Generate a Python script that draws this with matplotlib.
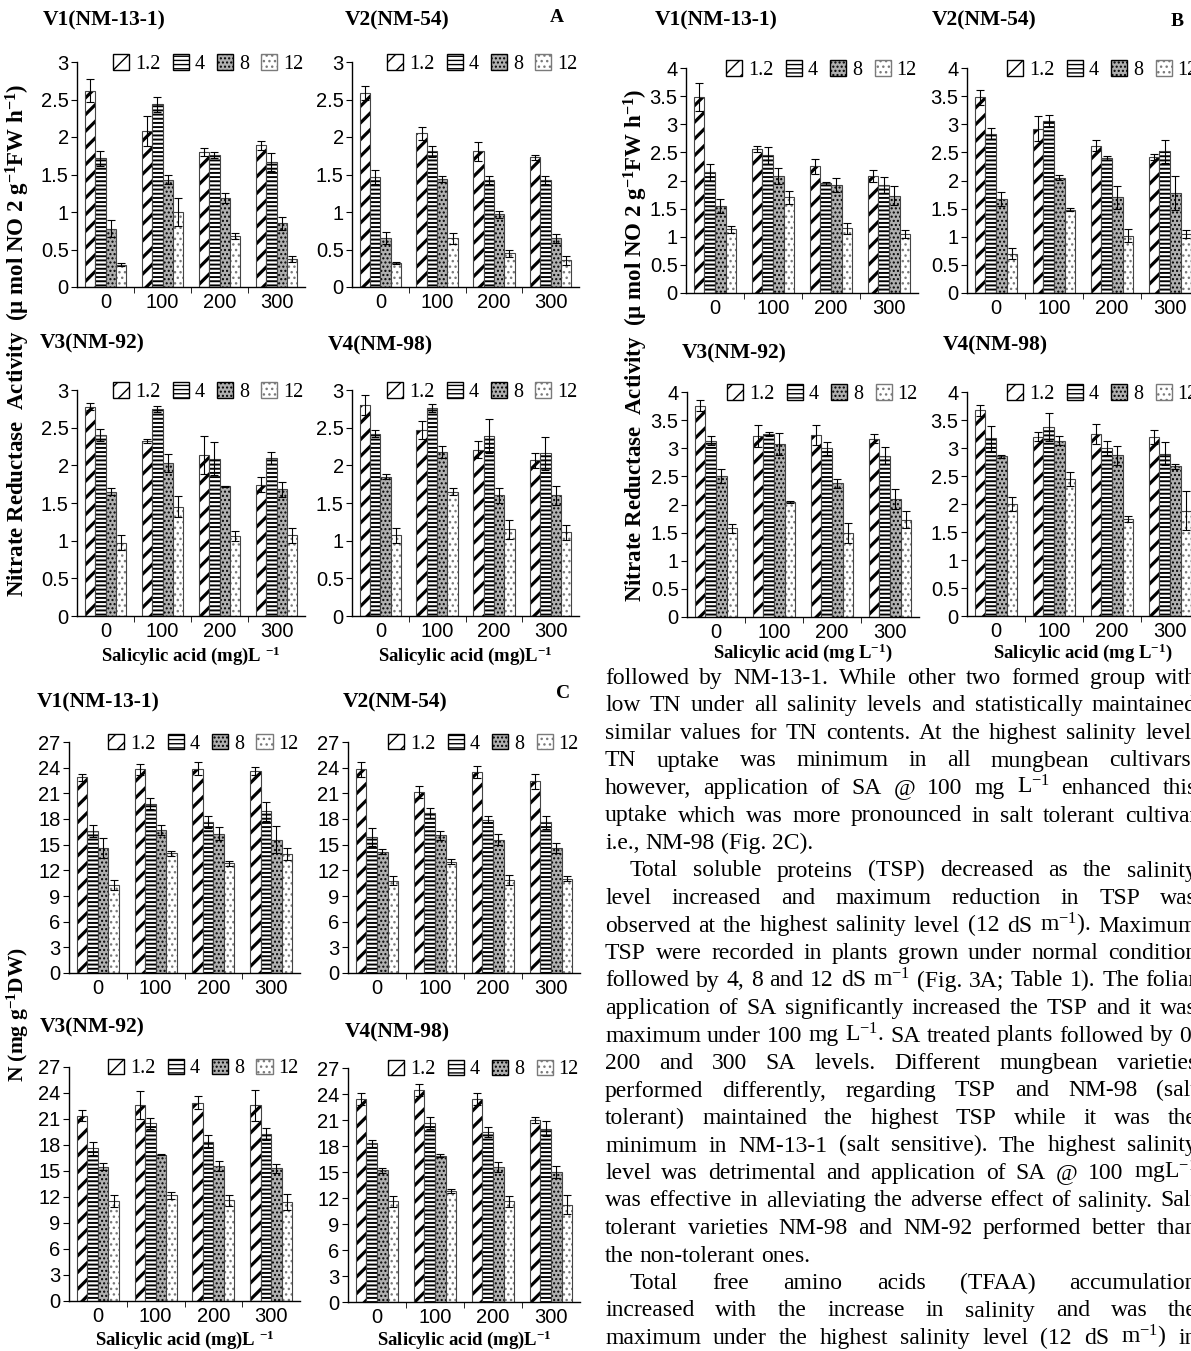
import numpy as np
import matplotlib
matplotlib.use('Agg')
import matplotlib.pyplot as plt
from matplotlib.patches import Patch

plt.rcParams['font.family'] = ['Liberation Sans', 'DejaVu Sans']
plt.rcParams['mathtext.fontset'] = 'custom'
plt.rcParams['mathtext.rm'] = 'Liberation Serif'
plt.rcParams['mathtext.it'] = 'Liberation Serif:italic'
plt.rcParams['mathtext.bf'] = 'Liberation Serif:bold'
plt.rcParams['hatch.linewidth'] = 1.0

# ---------------- data ----------------
sa_levels = ['0', '100', '200', '300']
salinity = ['1.2', '4', '8', '12']
varieties = ['V1(NM-13-1)', 'V2(NM-54)', 'V3(NM-92)', 'V4(NM-98)']

# rows = salinity (1.2, 4, 8, 12 dS/m), columns = SA level (0, 100, 200, 300)
# Panel A: nitrate reductase activity
nra_a_v1 = [[2.62, 2.08, 1.80, 1.89], [1.72, 2.44, 1.76, 1.67], [0.78, 1.43, 1.19, 0.85], [0.30, 1.00, 0.68, 0.37]]
nra_a_v1_se = [[0.15, 0.20, 0.05, 0.06], [0.10, 0.10, 0.04, 0.12], [0.11, 0.06, 0.07, 0.09], [0.02, 0.19, 0.04, 0.04]]
nra_a_v2 = [[2.59, 2.05, 1.81, 1.73], [1.47, 1.81, 1.43, 1.43], [0.66, 1.44, 0.97, 0.65], [0.32, 0.65, 0.45, 0.36]]
nra_a_v2_se = [[0.09, 0.09, 0.13, 0.03], [0.09, 0.07, 0.05, 0.05], [0.08, 0.04, 0.05, 0.06], [0.01, 0.07, 0.05, 0.06]]
nra_a_v3 = [[2.78, 2.32, 2.14, 1.74], [2.40, 2.75, 2.09, 2.10], [1.65, 2.03, 1.72, 1.68], [0.97, 1.45, 1.06, 1.07]]
nra_a_v3_se = [[0.05, 0.03, 0.25, 0.10], [0.08, 0.04, 0.22, 0.08], [0.05, 0.12, 0.01, 0.10], [0.10, 0.14, 0.07, 0.10]]
nra_a_v4 = [[2.80, 2.47, 2.21, 2.07], [2.42, 2.76, 2.39, 2.16], [1.85, 2.18, 1.60, 1.60], [1.07, 1.65, 1.15, 1.11]]
nra_a_v4_se = [[0.13, 0.12, 0.11, 0.10], [0.05, 0.05, 0.22, 0.22], [0.03, 0.08, 0.10, 0.13], [0.10, 0.05, 0.13, 0.10]]

# Panel B: nitrate reductase activity
nra_b_v1 = [[3.48, 2.56, 2.25, 2.08], [2.15, 2.45, 1.95, 1.92], [1.55, 2.08, 1.92, 1.73], [1.13, 1.70, 1.15, 1.05]]
nra_b_v1_se = [[0.25, 0.05, 0.13, 0.10], [0.15, 0.15, 0.03, 0.15], [0.12, 0.15, 0.12, 0.17], [0.07, 0.12, 0.10, 0.07]]
nra_b_v2 = [[3.48, 2.92, 2.62, 2.42], [2.83, 3.06, 2.40, 2.52], [1.67, 2.05, 1.70, 1.78], [0.70, 1.48, 1.02, 1.05]]
nra_b_v2_se = [[0.13, 0.22, 0.10, 0.06], [0.10, 0.10, 0.03, 0.20], [0.12, 0.04, 0.20, 0.30], [0.10, 0.03, 0.12, 0.07]]
nra_b_v3 = [[3.76, 3.22, 3.23, 3.17], [3.13, 3.25, 3.00, 2.87], [2.51, 3.08, 2.38, 2.10], [1.58, 2.04, 1.50, 1.73]]
nra_b_v3_se = [[0.10, 0.20, 0.18, 0.08], [0.08, 0.04, 0.12, 0.15], [0.13, 0.20, 0.08, 0.18], [0.08, 0.02, 0.18, 0.15]]
nra_b_v4 = [[3.67, 3.20, 3.25, 3.20], [3.17, 3.37, 3.00, 2.90], [2.85, 3.13, 2.87, 2.67], [2.00, 2.45, 1.73, 1.88]]
nra_b_v4_se = [[0.10, 0.08, 0.18, 0.13], [0.22, 0.25, 0.12, 0.20], [0.03, 0.08, 0.17, 0.05], [0.13, 0.13, 0.05, 0.35]]

# Panel C: total nitrogen (mg/g DW)
n_c_v1 = [[22.9, 23.8, 23.9, 23.6], [16.6, 19.8, 17.6, 18.9], [14.6, 16.7, 16.3, 15.6], [10.3, 14.0, 12.8, 13.9]]
n_c_v1_se = [[0.4, 0.6, 0.8, 0.5], [0.7, 0.6, 0.7, 1.1], [1.2, 0.6, 0.8, 1.6], [0.6, 0.3, 0.3, 0.7]]
n_c_v2 = [[23.8, 21.2, 23.5, 22.4], [15.9, 18.7, 17.9, 17.6], [14.2, 16.1, 15.6, 14.6], [10.8, 13.0, 10.9, 11.0]]
n_c_v2_se = [[0.9, 0.7, 0.7, 0.9], [1.1, 0.6, 0.4, 0.8], [0.3, 0.5, 0.6, 0.6], [0.5, 0.3, 0.6, 0.3]]
n_c_v3 = [[21.4, 22.6, 22.9, 22.6], [17.6, 20.5, 18.4, 19.3], [15.5, 16.9, 15.6, 15.3], [11.5, 12.2, 11.6, 11.4]]
n_c_v3_se = [[0.6, 1.6, 0.8, 1.8], [0.7, 0.6, 0.8, 0.7], [0.4, 0.1, 0.6, 0.5], [0.7, 0.4, 0.6, 0.9]]
n_c_v4 = [[23.4, 24.5, 23.4, 21.0], [18.3, 20.7, 19.6, 20.0], [15.2, 16.9, 15.6, 15.0], [11.6, 12.8, 11.6, 11.2]]
n_c_v4_se = [[0.7, 0.7, 0.7, 0.4], [0.4, 0.7, 0.6, 0.9], [0.3, 0.2, 0.6, 0.7], [0.6, 0.2, 0.6, 1.1]]

body_lines = [
    "followed by NM-13-1. While other two formed group with",
    "low TN under all salinity levels and statistically maintained",
    "similar values for TN contents. At the highest salinity level,",
    "TN uptake was minimum in all mungbean cultivars,",
    "however, application of SA @ 100 mg L$^{-1}$ enhanced this",
    "uptake which was more pronounced in salt tolerant cultivar",
    "i.e., NM-98 (Fig. 2C).",
    "Total soluble proteins (TSP) decreased as the salinity",
    "level increased and maximum reduction in TSP was",
    "observed at the highest salinity level (12 dS m$^{-1}$).  Maximum",
    "TSP were recorded in plants grown under normal condition",
    "followed by 4, 8 and 12 dS m$^{-1}$ (Fig. 3A; Table 1). The foliar",
    "application of SA significantly increased the TSP and it was",
    "maximum under 100 mg L$^{-1}$. SA treated plants followed by 0,",
    "200 and 300 SA levels. Different mungbean varieties",
    "performed differently, regarding TSP and NM-98 (salt",
    "tolerant) maintained the highest TSP while it was the",
    "minimum in NM-13-1 (salt sensitive). The highest salinity",
    "level was detrimental and application of SA @ 100 mgL$^{-1}$",
    "was effective in alleviating the adverse effect of salinity. Salt",
    "tolerant varieties NM-98 and NM-92 performed better than",
    "the non-tolerant ones.",
    "Total free amino acids (TFAA) accumulation",
    "increased with the increase in salinity and was the",
    "maximum under the highest salinity level (12 dS m$^{-1}$) in",
]
indent_lines = [7, 22]
ragged_lines = [6, 21]

# ---------------- styling ----------------
W, H = 1191, 1351
fig = plt.figure(figsize=(W / 100, H / 100), dpi=100)

SERIF = 'Liberation Serif'
bar_styles = [
    dict(hatch='//', color='black', face='white', hlw=2.3),
    dict(hatch='----', color='black', face='white', hlw=1.4),
    dict(hatch='....', color='black', face='#b0b0b0', hlw=1.0),
    dict(hatch='...', color='#7a7a7a', face='white', hlw=1.0),
]


def px_axes(left, right, top, bottom):
    return fig.add_axes([left / W, 1 - bottom / H, (right - left) / W, (bottom - top) / H])


def draw_panel(ax, means, errs, ymax, ystep, yfmt):
    means = np.array(means)
    errs = np.array(errs)
    x = np.arange(len(sa_levels))
    bw = 0.182
    for i, st in enumerate(bar_styles):
        xi = x + (i - 1.5) * bw
        bars = ax.bar(xi, means[i], width=bw, facecolor=st['face'], edgecolor=st['color'],
                      hatch=st['hatch'], linewidth=0)
        for b in bars:
            if hasattr(b, 'set_hatch_linewidth'):
                b.set_hatch_linewidth(st['hlw'])
        ax.bar(xi, means[i], width=bw, fill=False, edgecolor='#444444', linewidth=0.8)
        ax.errorbar(xi, means[i], yerr=errs[i], fmt='none', ecolor='black',
                    elinewidth=0.8, capsize=3, capthick=0.8)
    ax.set_xlim(-0.5, 3.5)
    ax.set_ylim(0, ymax)
    ticks = np.arange(0, ymax + ystep / 2, ystep)
    ax.set_yticks(ticks)
    ax.set_yticklabels([yfmt(t) for t in ticks])
    ax.set_xticks(x)
    ax.set_xticklabels(sa_levels)
    ax.set_xticks([0.5, 1.5, 2.5], minor=True)
    ax.tick_params(axis='x', which='major', length=0, labelsize=14.5, pad=4)
    ax.tick_params(axis='x', which='minor', length=4, direction='out')
    ax.tick_params(axis='y', length=4, direction='out', labelsize=14.5, pad=2)
    for s in ('top', 'right'):
        ax.spines[s].set_visible(False)
    for s in ('left', 'bottom'):
        ax.spines[s].set_linewidth(1.0)
    handles = []
    for st in bar_styles:
        handles.append(Patch(facecolor=st['face'], edgecolor=st['color'], hatch=st['hatch']))
    leg = ax.legend(handles, salinity, loc='upper right', bbox_to_anchor=(1.03, 1.07),
                    ncol=4, frameon=False, handlelength=0.8, handleheight=0.8,
                    handletextpad=0.3, columnspacing=0.6, borderaxespad=0,
                    prop={'family': SERIF, 'size': 14.5})
    for h in leg.legend_handles:
        h.set_linewidth(1.0)


def fmt_dec(v):
    return ('%g' % v)


def fmt_int(v):
    return '%d' % v


panels = [
    # (means, errs, left, right, top, bottom, ymax, step, fmt)
    (nra_a_v1, nra_a_v1_se, 77, 305, 62, 287, 3, 0.5, fmt_dec),
    (nra_a_v2, nra_a_v2_se, 352, 579, 62, 287, 3, 0.5, fmt_dec),
    (nra_a_v3, nra_a_v3_se, 77, 305, 390, 616, 3, 0.5, fmt_dec),
    (nra_a_v4, nra_a_v4_se, 352, 579, 390, 616, 3, 0.5, fmt_dec),
    (nra_b_v1, nra_b_v1_se, 686, 918, 68, 293, 4, 0.5, fmt_dec),
    (nra_b_v2, nra_b_v2_se, 967, 1199, 68, 293, 4, 0.5, fmt_dec),
    (nra_b_v3, nra_b_v3_se, 687, 919, 392, 617, 4, 0.5, fmt_dec),
    (nra_b_v4, nra_b_v4_se, 967, 1199, 392, 616, 4, 0.5, fmt_dec),
    (n_c_v1, n_c_v1_se, 69, 300, 742, 973, 27, 3, fmt_int),
    (n_c_v2, n_c_v2_se, 348, 580, 742, 973, 27, 3, fmt_int),
    (n_c_v3, n_c_v3_se, 69, 300, 1067, 1301, 27, 3, fmt_int),
    (n_c_v4, n_c_v4_se, 348, 580, 1068, 1302, 27, 3, fmt_int),
]
for m, e, l, r, t, b, ymax, step, f in panels:
    ax = px_axes(l, r, t, b)
    draw_panel(ax, m, e, ymax, step, f)


def ftext(x, y, s, **kw):
    kw.setdefault('family', SERIF)
    return fig.text(x / W, 1 - y / H, s, **kw)


# variety titles (x, y in pixels)
titles = [
    (43, 20, 0), (345, 20, 1), (40, 343, 2), (328, 345, 3),
    (655, 20, 0), (932, 20, 1), (682, 353, 2), (943, 345, 3),
    (37, 702, 0), (343, 702, 1), (40, 1027, 2), (345, 1032, 3),
]
for x, y, k in titles:
    ftext(x, y, varieties[k], fontsize=15.5, fontweight='bold', ha='left', va='center')

for x, y, s in [(557, 18, 'A'), (1177, 22, 'B'), (563, 693, 'C')]:
    ftext(x, y, s, fontsize=14, fontweight='bold', ha='center', va='center')

# axis titles
nra_label = r"Nitrate Reductase  Activity  ($\mathbf{\mu}$ mol NO 2 g$^{\mathbf{-1}}$FW h$^{\mathbf{-1}}$)"
ftext(18, 340, nra_label, fontsize=16.5, fontweight='bold', rotation=90, ha='center', va='center')
ftext(636, 345, nra_label, fontsize=16.5, fontweight='bold', rotation=90, ha='center', va='center')
ftext(18, 1015, r"N (mg g$^{\mathbf{-1}}$DW)", fontsize=15.5, fontweight='bold', rotation=90,
      ha='center', va='center')

xl_a3 = r"Salicylic acid (mg)L $^{\mathbf{-1}}$"
xl_a4 = r"Salicylic acid (mg)L$^{\mathbf{-1}}$"
xl_b = r"Salicylic acid (mg L$^{\mathbf{-1}}$)"
for x, y, s in [(191, 656, xl_a3), (465, 656, xl_a4), (803, 653, xl_b), (1083, 653, xl_b),
                (185, 1340, xl_a3), (464, 1340, xl_a4)]:
    ftext(x, y, s, fontsize=13.5, fontweight='bold', ha='center', va='center')

# body text, justified
renderer = fig.canvas.get_renderer()
x0, x1 = 605, 1197
y0, dy = 684, 27.5
for i, line in enumerate(body_lines):
    y = y0 + i * dy
    words = [w for w in line.split(' ') if w]
    start = x0 + (25 if i in indent_lines else 0)
    objs = [ftext(0, y, w, fontsize=17, ha='left', va='baseline') for w in words]
    widths = [o.get_window_extent(renderer).width for o in objs]
    if i in ragged_lines or len(words) == 1:
        gap = 5.9
    else:
        gap = (x1 - start - sum(widths)) / (len(words) - 1)
    x = start
    for o, wd in zip(objs, widths):
        o.set_x(x / W)
        x += wd + gap

fig.savefig('out.png', dpi=100)
